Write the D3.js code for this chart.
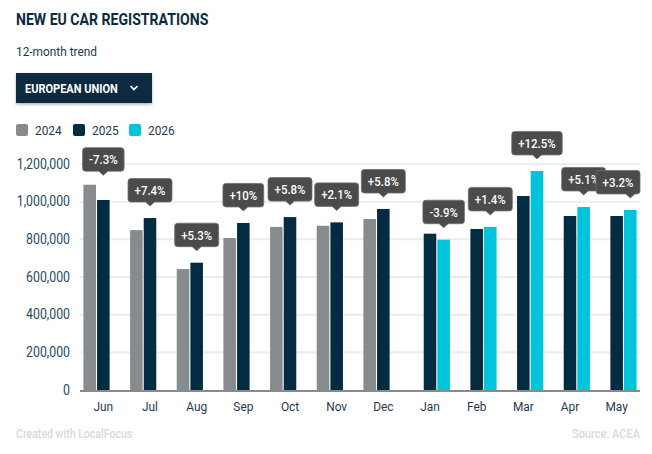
<!DOCTYPE html>
<html>
<head>
<meta charset="utf-8">
<script src="https://cdn.jsdelivr.net/npm/d3@7"></script>
<style>
  body { margin: 0; background: #fff; }
  svg { display: block; font-family: Roboto, "Noto Sans", sans-serif; }
</style>
</head>
<body>
<svg id="chart"></svg>
<script>
// chart data
var months = ["Jun", "Jul", "Aug", "Sep", "Oct", "Nov", "Dec", "Jan", "Feb", "Mar", "Apr", "May"];
var years = ["2024", "2025", "2026"];
var values2024 = [1090000, 849000, 642000, 807000, 866000, 872000, 908000, null, null, null, null, null];
var values2025 = [1009000, 913000, 676000, 887000, 918000, 890000, 961000, 830000, 855000, 1030000, 924000, 924000];
var values2026 = [null, null, null, null, null, null, null, 798000, 866000, 1163000, 972000, 956000];
var changeLabels = ["-7.3%", "+7.4%", "+5.3%", "+10%", "+5.8%", "+2.1%", "+5.8%", "-3.9%", "+1.4%", "+12.5%", "+5.1%", "+3.2%"];
var yTicks = [0, 200000, 400000, 600000, 800000, 1000000, 1200000];

var colors = { "2024": "#888b8d", "2025": "#032c42", "2026": "#00c4dc" };
var navy = "#0b2c40";
var textCol = "#1e3a4c";
var squeeze = 0.88; // fake condensed font

var width = 652, height = 454;
var plot = { left: 80, right: 640, top: 164, bottom: 390 };

var svg = d3.select("#chart").attr("width", width).attr("height", height);

// text helper, squeezes the text horizontally around its anchor
function addText(g, x, y, txt) {
    return g.append("text")
        .attr("transform", "translate(" + x + "," + y + ") scale(" + squeeze + ",1)")
        .text(txt);
}

// title + subtitle
addText(svg, 16, 25, "NEW EU CAR REGISTRATIONS")
    .attr("font-size", "16px").attr("font-weight", "bold").attr("fill", navy);
addText(svg, 16, 56, "12-month trend")
    .attr("font-size", "13.5px").attr("fill", textCol);

// dropdown button
var defs = svg.append("defs");
var filter = defs.append("filter").attr("id", "shadow").attr("x", "-10%").attr("y", "-20%").attr("width", "120%").attr("height", "150%");
filter.append("feDropShadow").attr("dx", 0).attr("dy", 1.5).attr("stdDeviation", 1.5).attr("flood-color", "#000").attr("flood-opacity", 0.3);

svg.append("rect")
    .attr("x", 16).attr("y", 73).attr("width", 136).attr("height", 30)
    .attr("fill", navy).attr("filter", "url(#shadow)");
addText(svg, 25, 92.5, "EUROPEAN UNION")
    .attr("font-size", "12.5px").attr("font-weight", "bold").attr("fill", "#fff");
svg.append("path")
    .attr("d", "M130.5,86 L134,89.5 L137.5,86")
    .attr("fill", "none").attr("stroke", "#fff").attr("stroke-width", 1.6);

// legend
var legendX = [16, 73, 129];
years.forEach(function(yr, i) {
    svg.append("rect")
        .attr("x", legendX[i]).attr("y", 124).attr("width", 12).attr("height", 12)
        .attr("rx", 2).attr("fill", colors[yr]);
    addText(svg, legendX[i] + 19, 135, yr)
        .attr("font-size", "13.5px").attr("fill", textCol);
});

// scales
var x0 = d3.scaleBand().domain(months).range([plot.left, plot.right]).padding(0);
var x1 = d3.scaleBand().domain(years).range([0, x0.bandwidth()]).paddingInner(0.08).paddingOuter(0.25);
var y = d3.scaleLinear().domain([0, 1200000]).range([plot.bottom, plot.top]);

// grid lines
svg.append("g").selectAll("line")
    .data(yTicks.slice(1))
    .enter().append("line")
    .attr("x1", plot.left).attr("x2", plot.right)
    .attr("y1", function(d) { return y(d); }).attr("y2", function(d) { return y(d); })
    .attr("stroke", "#ececec").attr("stroke-width", 2);

// y labels
var fmt = d3.format(",");
yTicks.forEach(function(t) {
    addText(svg, 70, y(t) + 4.5, fmt(t))
        .attr("text-anchor", "end").attr("font-size", "14px").attr("fill", "#2a4a60");
});

// bars
var rows = months.map(function(m, i) {
    return { month: m, "2024": values2024[i], "2025": values2025[i], "2026": values2026[i], label: changeLabels[i] };
});

var groups = svg.append("g").selectAll("g")
    .data(rows)
    .enter().append("g")
    .attr("transform", function(d) { return "translate(" + x0(d.month) + ",0)"; });

groups.selectAll("rect")
    .data(function(d) {
        return years.filter(function(yr) { return d[yr] != null; })
                    .map(function(yr) { return { year: yr, value: d[yr] }; });
    })
    .enter().append("rect")
    .attr("x", function(d) { return x1(d.year); })
    .attr("y", function(d) { return y(d.value); })
    .attr("width", x1.bandwidth())
    .attr("height", function(d) { return plot.bottom - y(d.value); })
    .attr("fill", function(d) { return colors[d.year]; });

// baseline
svg.append("line")
    .attr("x1", plot.left).attr("x2", plot.right)
    .attr("y1", plot.bottom + 1).attr("y2", plot.bottom + 1)
    .attr("stroke", "#8a8a8a").attr("stroke-width", 2);

// month labels
months.forEach(function(m) {
    addText(svg, x0(m) + x0.bandwidth() / 2, 411, m)
        .attr("text-anchor", "middle").attr("font-size", "13.5px").attr("fill", textCol);
});

// change callouts, sitting over the latest year's bar
rows.forEach(function(d) {
    var present = years.filter(function(yr) { return d[yr] != null; });
    var latest = present[present.length - 1];
    var other = present[0];
    var cx = x0(d.month) + x1(latest) + x1.bandwidth() / 2;
    var tip = y(d[latest]) - 12;
    var boxBottom = tip - 4;
    // push up when the older bar would poke into the box
    if (boxBottom > y(d[other]) - 9) {
        boxBottom = y(d[other]) - 13.5;
        tip = boxBottom + 4;
    }
    var g = svg.append("g");
    var box = g.append("path");
    var t = g.append("text")
        .attr("text-anchor", "middle").attr("font-size", "13px").attr("font-weight", 500).attr("fill", "#fff")
        .text(d.label);
    var w = t.node().getComputedTextLength() * squeeze + 13;
    var h = 23.5, r = 3;
    var bx = Math.min(cx, plot.right - w / 2);
    t.attr("transform", "translate(" + bx + "," + (boxBottom - 7) + ") scale(" + squeeze + ",1)");
    var l = bx - w / 2, rr = bx + w / 2, tp = boxBottom - h;
    box.attr("d",
        "M" + (l + r) + "," + tp +
        " H" + (rr - r) + " Q" + rr + "," + tp + " " + rr + "," + (tp + r) +
        " V" + (boxBottom - r) + " Q" + rr + "," + boxBottom + " " + (rr - r) + "," + boxBottom +
        " H" + (cx + 4.5) + " L" + cx + "," + tip + " L" + (cx - 4.5) + "," + boxBottom +
        " H" + (l + r) + " Q" + l + "," + boxBottom + " " + l + "," + (boxBottom - r) +
        " V" + (tp + r) + " Q" + l + "," + tp + " " + (l + r) + "," + tp + " Z")
        .attr("fill", "#4b4b4b").attr("stroke", "#6e6e6e").attr("stroke-width", 0.8);
});

// footer
addText(svg, 16, 438, "Created with LocalFocus")
    .attr("font-size", "12px").attr("font-weight", 500).attr("fill", "#d9d9d9");
addText(svg, 640, 438, "Source: ACEA")
    .attr("text-anchor", "end").attr("font-size", "12.5px").attr("font-weight", 500).attr("fill", "#d9d9d9");
</script>
</body>
</html>
